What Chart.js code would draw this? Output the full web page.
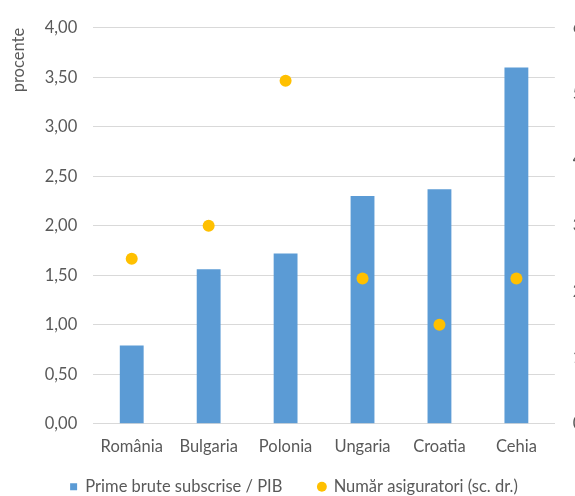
<!DOCTYPE html>
<html>
<head>
<meta charset="utf-8">
<script src="https://cdn.jsdelivr.net/npm/chart.js@4/dist/chart.umd.min.js"></script>
<style>
  html, body { margin: 0; padding: 0; background: #fff; overflow: hidden; }
  #wrap { width: 624px; height: 532px; }
</style>
</head>
<body>
<div id="wrap"><canvas id="grafico"></canvas></div>
<script>
const tari = ['România', 'Bulgaria', 'Polonia', 'Ungaria', 'Croatia', 'Cehia'];
const primePib = [0.79, 1.56, 1.72, 2.30, 2.37, 3.60];
const nrAsiguratori = [25, 30, 52, 22, 15, 22];

const font = {family: 'Lato', size: 16.5};
const gri = '#595959';

// legenda in Excel e putin mai sus si mai la stanga decat o pune Chart.js
const mutaLegenda = {
  id: 'mutaLegenda',
  afterLayout(chart) {
    const lg = chart.legend;
    lg.left -= 12; lg.right -= 12;
    lg.top -= 27; lg.bottom -= 27;
  }
};

document.addEventListener('DOMContentLoaded', () => {
  const ctx = document.getElementById('grafico').getContext('2d');

  new Chart(ctx, {
    type: 'bar',
    data: {
      labels: tari,
      datasets: [
        {
          type: 'line',
          label: 'Număr asiguratori (sc. dr.)',
          data: nrAsiguratori,
          yAxisID: 'y2',
          showLine: false,
          pointRadius: 6,
          pointHoverRadius: 6,
          pointStyle: 'circle',
          backgroundColor: '#FFC000',
          borderColor: '#FFC000',
          borderWidth: 0,
          order: 0
        },
        {
          label: 'Prime brute subscrise / PIB',
          data: primePib,
          yAxisID: 'y',
          backgroundColor: '#5B9BD5',
          borderColor: '#5B9BD5',
          barPercentage: 0.31,
          categoryPercentage: 1,
          pointStyle: 'rect',
          order: 1
        }
      ]
    },
    plugins: [mutaLegenda],
    options: {
      responsive: true,
      maintainAspectRatio: false,
      animation: false,
      layout: {padding: {top: 7, right: 14, left: 2, bottom: 0}},
      scales: {
        x: {
          grid: {display: false, drawTicks: false},
          border: {color: '#d9d9d9'},
          ticks: {color: gri, font: font, padding: 13}
        },
        y: {
          position: 'left',
          min: 0,
          max: 4,
          grid: {color: '#d9d9d9', drawTicks: false},
          border: {display: false},
          ticks: {
            stepSize: 0.5,
            color: gri,
            font: font,
            padding: 16,
            callback: v => v.toFixed(2).replace('.', ',')
          },
          title: {
            display: true,
            text: 'procente',
            align: 'end',
            color: gri,
            font: font,
            padding: {top: 7, bottom: 0}
          }
        },
        y2: {
          position: 'right',
          min: 0,
          max: 60,
          grid: {drawOnChartArea: false, drawTicks: false},
          border: {display: false},
          ticks: {stepSize: 10, color: gri, font: font, padding: 18}
        }
      },
      plugins: {
        tooltip: {enabled: false},
        legend: {
          position: 'bottom',
          reverse: true,
          labels: {
            usePointStyle: true,
            boxWidth: 7,
            boxHeight: 7,
            padding: 36,
            color: gri,
            font: font
          }
        }
      }
    }
  });
});
</script>
</body>
</html>
